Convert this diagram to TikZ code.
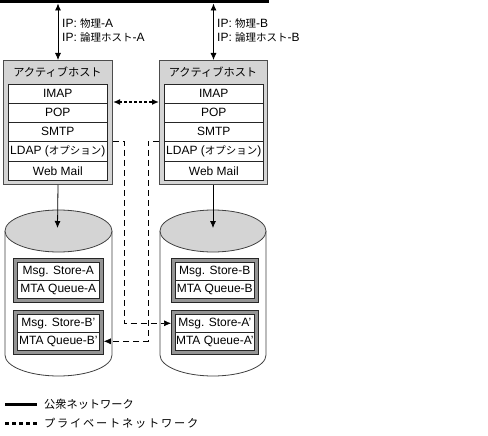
\documentclass[tikz,border=0pt]{standalone}
\usepackage{fontspec}
\setmainfont{Liberation Sans}
\newfontfamily\jpfont{Noto Sans CJK JP}
\newcommand\J[1]{{\jpfont\fontsize{10.5}{12}\selectfont #1}}
\newcommand\JL[1]{{\jpfont\fontsize{11.2}{13}\selectfont #1}}
\usetikzlibrary{arrows.meta}
\begin{document}
\begin{tikzpicture}[x=1pt,y=-1pt,
  font=\fontsize{12}{14}\selectfont,
  hostbox/.style={draw=black!70, fill=black!17, line width=1pt, anchor=north west, inner sep=0pt},
  rowbox/.style={draw=black!85, fill=white, line width=0.6pt, anchor=north west, inner sep=0pt, minimum height=19},
  storebox/.style={draw=black!85, fill=black!42, line width=0.8pt, anchor=north west, inner sep=0pt, minimum height=44},
  cylline/.style={draw=black!75, line width=0.8pt},
  arr/.style={-{Latex[length=7pt,width=6pt]}, line width=0.8pt},
  biarr/.style={{Latex[length=7pt,width=6pt]}-{Latex[length=7pt,width=6pt]}, line width=0.8pt},
  thickdash/.style={{Latex[length=7pt,width=6pt]}-{Latex[length=7pt,width=6pt]}, line width=2pt, dash pattern=on 3pt off 2pt},
  priv/.style={-{Latex[length=7pt,width=6pt]}, line width=0.6pt, dash pattern=on 6pt off 4pt},
  lbl/.style={anchor=west, inner sep=0pt}
]
\useasboundingbox (0,0) rectangle (488,436);

% public network line
\coordinate (netL) at (0,2);
\coordinate (netR) at (269,2);
\draw[line width=3pt] (netL) -- (netR);

% host boxes
\node[hostbox, minimum width=109, minimum height=124] (hostA) at (3,60) {};
\node[hostbox, minimum width=108, minimum height=124] (hostB) at (159,60) {};
\node (hdA) at (57.5,72) {\JL{アクティブホスト}};
\node (hdB) at (213,72) {\JL{アクティブホスト}};

\node[rowbox, minimum width=99] (imapA) at (8,84) {IMAP};
\node[rowbox, minimum width=99] (popA) at (8,103) {POP};
\node[rowbox, minimum width=99] (smtpA) at (8,122) {SMTP};
\node[rowbox, minimum width=99, minimum height=20] (ldapA) at (8,141) {LDAP (\J{オプション})};
\node[rowbox, minimum width=99] (webA) at (8,161) {Web Mail};

\node[rowbox, minimum width=99] (imapB) at (164,84) {IMAP};
\node[rowbox, minimum width=99] (popB) at (164,103) {POP};
\node[rowbox, minimum width=99] (smtpB) at (164,122) {SMTP};
\node[rowbox, minimum width=99, minimum height=20] (ldapB) at (164,141) {LDAP (\J{オプション})};
\node[rowbox, minimum width=99] (webB) at (164,161) {Web Mail};

% arrows to network
\draw[biarr, shorten <=1.5pt] (hostA.north |- netL) -- (hostA.north);
\draw[biarr, shorten <=1.5pt] (hostB.north |- netL) -- (hostB.north);
\node[lbl] (ipA1) at (62,24) {IP: \J{物理}-A};
\node[lbl] (ipA2) at (62,38) {IP: \J{論理ホスト}-A};
\node[lbl] (ipB1) at (217,24) {IP: \J{物理}-B};
\node[lbl] (ipB2) at (217,38) {IP: \J{論理ホスト}-B};

% heartbeat between hosts
\draw[thickdash] (hostA.east |- 0,102) -- (hostB.west |- 0,102);

% cylinders
\draw[cylline, fill=white] (5,231) -- (5,355) arc[start angle=180, end angle=360, x radius=53.5pt, y radius=21pt] -- (112,231);
\draw[cylline, fill=black!17] (58.5,231) ellipse [x radius=53.5pt, y radius=21pt];
\draw[cylline, fill=white] (160,231) -- (160,355) arc[start angle=180, end angle=360, x radius=53pt, y radius=21pt] -- (266,231);
\draw[cylline, fill=black!17] (213,231) ellipse [x radius=53pt, y radius=21pt];
\coordinate (cylA) at (57.5,228);
\coordinate (cylB) at (213,228);

\draw[arr] (hostA.south) -- (cylA);
\draw[arr] (hostB.south -| cylB) -- (cylB);

% store boxes left
\node[storebox, minimum width=90] (boxA1) at (13,258) {};
\node[rowbox, minimum width=82, minimum height=18] (msA) at (17,262) {Msg. Store-A};
\node[rowbox, minimum width=82, minimum height=18] (mqA) at (17,280) {MTA Queue-A};
\node[storebox, minimum width=90] (boxA2) at (13,310) {};
\node[rowbox, minimum width=82, minimum height=18] (msBp) at (17,314) {Msg. Store-B'};
\node[rowbox, minimum width=82, minimum height=18] (mqBp) at (17,332) {MTA Queue-B'};

% store boxes right
\node[storebox, minimum width=87] (boxB1) at (171,258) {};
\node[rowbox, minimum width=79, minimum height=18] (msB) at (175,262) {Msg. Store-B};
\node[rowbox, minimum width=79, minimum height=18] (mqB) at (175,280) {MTA Queue-B};
\node[storebox, minimum width=87] (boxB2) at (171,310) {};
\node[rowbox, minimum width=79, minimum height=18] (msAp) at (175,314) {Msg. Store-A'};
\node[rowbox, minimum width=79, minimum height=18] (mqAp) at (175,332) {MTA Queue-A'};

% private network replication
\draw[priv] (hostA.east |- ldapA.north) -- ++(11,0) |- (boxB2.west |- msAp.center);
\draw[priv] (hostB.west |- ldapB.north) -- ++(-11,0) |- (boxA2.east |- mqBp.center);

% legend
\coordinate (l1a) at (5,404);
\coordinate (l1b) at (37,404);
\coordinate (l2a) at (5,423);
\coordinate (l2b) at (37,423);
\draw[line width=3pt] (l1a) -- (l1b);
\draw[line width=3pt, dash pattern=on 4pt off 3pt] (l2a) -- (l2b);
\node[lbl] (lg1) at (44,404) {\JL{公衆ネットワーク}};
\node[lbl] (lg2) at (44,423) {\JL{\addfontfeature{LetterSpace=16}プライベートネットワーク}};
\end{tikzpicture}
\end{document}
